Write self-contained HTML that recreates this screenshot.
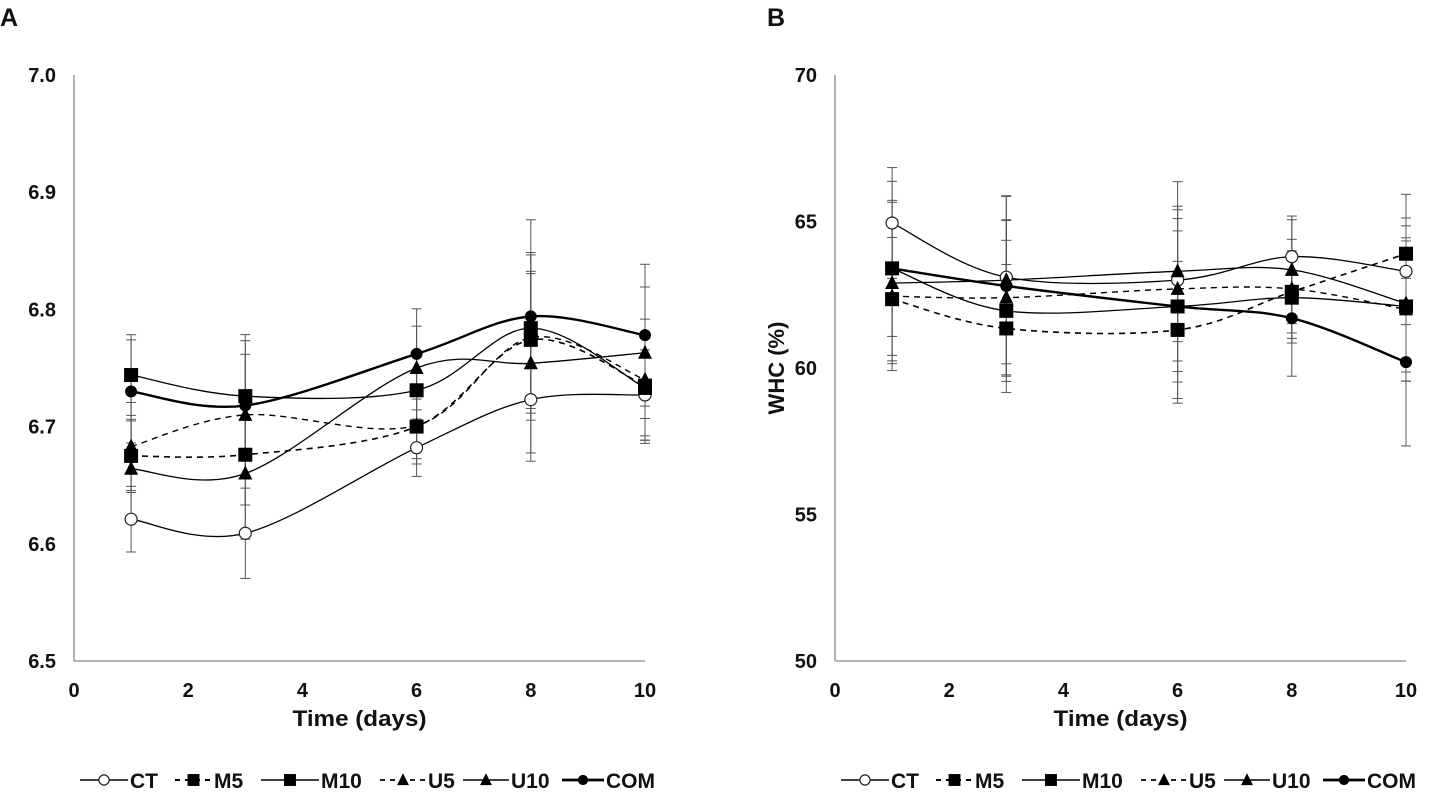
<!DOCTYPE html>
<html><head><meta charset="utf-8">
<style>
html,body{margin:0;padding:0;background:#fff;}
body{width:1440px;height:791px;overflow:hidden;font-family:"Liberation Sans",Arial,sans-serif;}
svg text{font-family:"Liberation Sans",Arial,sans-serif;font-weight:bold;fill:#111;}
</style></head>
<body>
<svg id="chart" width="1440" height="791" xmlns="http://www.w3.org/2000/svg"></svg>
<script>
// ---- data ----
const days = [1, 3, 6, 8, 10];
const seriesNames = ["CT", "M5", "M10", "U5", "U10", "COM"];
// Panel A (pH)
const aCT  = [6.621, 6.609, 6.682, 6.723, 6.727];
const aM5  = [6.675, 6.676, 6.700, 6.774, 6.735];
const aM10 = [6.744, 6.726, 6.731, 6.784, 6.733];
const aU5  = [6.683, 6.710, 6.701, 6.776, 6.740];
const aU10 = [6.664, 6.660, 6.750, 6.754, 6.763];
const aCOM = [6.730, 6.718, 6.762, 6.794, 6.778];
const aErr = [0.040, 0.055, 0.035, 0.075, 0.055];
const aTicks = ["6.5", "6.6", "6.7", "6.8", "6.9", "7.0"];
// Panel B (WHC %)
const bCT  = [64.95, 63.1, 63.0, 63.8, 63.3];
const bM5  = [62.35, 61.35, 61.3, 62.6, 63.9];
const bM10 = [63.4, 61.95, 62.1, 62.4, 62.1];
const bU5  = [62.45, 62.4, 62.7, 62.7, 62.0];
const bU10 = [62.9, 63.0, 63.3, 63.35, 62.2];
const bCOM = [63.4, 62.8, 62.1, 61.7, 60.2];
const bErr = [2.7, 2.8, 3.0, 1.8, 2.6];
const bTicks = ["50", "55", "60", "65", "70"];
const xTicks = ["0", "2", "4", "6", "8", "10"];

const NS = "http://www.w3.org/2000/svg";
const svg = document.getElementById("chart");
function mk(tag, attrs, parent) {
  const e = document.createElementNS(NS, tag);
  for (const k in attrs) e.setAttribute(k, attrs[k]);
  (parent || svg).appendChild(e);
  return e;
}
const styles = {
  CT:  {dash: "", w: 1.3, marker: "circleOpen"},
  M5:  {dash: "6,5", w: 1.6, marker: "square"},
  M10: {dash: "", w: 1.3, marker: "square"},
  U5:  {dash: "6,5", w: 1.4, marker: "triangle"},
  U10: {dash: "", w: 1.3, marker: "triangle"},
  COM: {dash: "", w: 2.4, marker: "circle"}
};
// legend layout (offset from panel axis x)
const legLine = [6, 101, 187, 306, 389, 488];
const legText = [56, 140, 247, 354, 437, 532];

function smoothPath(pts) {
  let d = "M" + pts[0][0] + "," + pts[0][1];
  for (let i = 0; i < pts.length - 1; i++) {
    const p0 = pts[i - 1] || pts[i], p1 = pts[i], p2 = pts[i + 1], p3 = pts[i + 2] || p2;
    const t = 0.5 / 3;
    const c1 = [p1[0] + (p2[0] - p0[0]) * t, p1[1] + (p2[1] - p0[1]) * t];
    const c2 = [p2[0] - (p3[0] - p1[0]) * t, p2[1] - (p3[1] - p1[1]) * t];
    d += " C" + c1[0] + "," + c1[1] + " " + c2[0] + "," + c2[1] + " " + p2[0] + "," + p2[1];
  }
  return d;
}

function drawMarker(g, type, x, y, s) {
  let e;
  if (type === "circleOpen") e = mk("circle", {cx: x, cy: y, r: 6 * s, fill: "#fff", stroke: "#222", "stroke-width": 1.2}, g);
  else if (type === "circle") e = mk("circle", {cx: x, cy: y, r: 6 * s, fill: "#000"}, g);
  else if (type === "square") e = mk("rect", {x: x - 7 * s, y: y - 7 * s, width: 14 * s, height: 14 * s, fill: "#000"}, g);
  else e = mk("polygon", {points: (x) + "," + (y - 8 * s) + " " + (x - 7 * s) + "," + (y + 6 * s) + " " + (x + 7 * s) + "," + (y + 6 * s), fill: "#000"}, g);
  return e;
}

function panel(cfg) {
  const {x0, x1, y0, y1, vmin, vmax, ticks, data, err, label, lx, ylabel} = cfg;
  const g = mk("g", {});
  
  
  const X = d => x0 + (d / 10) * (x1 - x0);
  const Y = v => y1 - (v - vmin) / (vmax - vmin) * (y1 - y0);
  const pl = mk("text", {x: lx, y: 26, "font-size": 25}, g); pl.textContent = label;
  
  
  const ya = mk("line", {x1: x0, y1: y0, x2: x0, y2: y1, stroke: "#888", "stroke-width": 1.3}, g);
  
  
  const xa = mk("line", {x1: x0, y1: y1, x2: x1, y2: y1, stroke: "#888", "stroke-width": 1.3}, g);
  
  
  ticks.forEach(t => {
    const e = mk("text", {x: x0 - 18, y: Y(parseFloat(t)) + 7, "font-size": 20, "text-anchor": "end"}, g);
    e.textContent = t;
    
    
  });
  xTicks.forEach(t => {
    const e = mk("text", {x: X(parseFloat(t)), y: 697, "font-size": 20, "text-anchor": "middle"}, g);
    e.textContent = t;
    
    
  });
  const xt = mk("text", {x: (x0 + x1) / 2, y: 726, "font-size": 22, "text-anchor": "middle", textLength: 134, lengthAdjust: "spacingAndGlyphs"}, g);
  xt.textContent = "Time (days)";
  
  
  if (ylabel) {
    const yt = mk("text", {x: 0, y: 0, "font-size": 22, "text-anchor": "middle", transform: "translate(784,368) rotate(-90)"}, g);
    yt.textContent = ylabel;
    
    
  }
  // error bars
  seriesNames.forEach((n, si) => {
    data[si].forEach((v, i) => {
      const e = err[i] * (0.7 + 0.08 * si);
      const eg = mk("g", {stroke: "#555", "stroke-width": 1}, g);
      
      
      const x = X(days[i]);
      mk("line", {x1: x, y1: Y(v - e), x2: x, y2: Y(v + e)}, eg);
      mk("line", {x1: x - 5, y1: Y(v - e), x2: x + 5, y2: Y(v - e)}, eg);
      mk("line", {x1: x - 5, y1: Y(v + e), x2: x + 5, y2: Y(v + e)}, eg);
    });
  });
  seriesNames.forEach((n, si) => {
    const st = styles[n];
    const pts = data[si].map((v, i) => [X(days[i]), Y(v)]);
    const p = mk("path", {d: smoothPath(pts), fill: "none", stroke: "#000", "stroke-width": st.w, "stroke-dasharray": st.dash}, g);
    
    
  });
  seriesNames.forEach((n, si) => {
    data[si].forEach((v, i) => {
      const m = drawMarker(g, styles[n].marker, X(days[i]), Y(v), 1);
      
      
    });
  });
  // legend
  const lg = mk("g", {}, g);
  
  
  const ly = 780;
  seriesNames.forEach((n, si) => {
    const st = styles[n];
    const eg = mk("g", {}, lg);
    
    
    const ls = x0 + legLine[si], le = x0 + legText[si] - 2;
    mk("line", {x1: ls, y1: ly, x2: le, y2: ly, stroke: "#000", "stroke-width": st.w + 0.3, "stroke-dasharray": st.dash ? "5,5" : ""}, eg);
    drawMarker(eg, st.marker, (ls + le) / 2, ly, 0.85);
    const t = mk("text", {x: x0 + legText[si], y: ly + 8, "font-size": 21}, eg);
    t.textContent = n;
  });
}

panel({name: "panel-a", x0: 74, x1: 645, y0: 75, y1: 661, vmin: 6.5, vmax: 7.0, ticks: aTicks,
  data: [aCT, aM5, aM10, aU5, aU10, aCOM], err: aErr, label: "A", lx: 0, ylabel: null});
panel({name: "panel-b", x0: 835, x1: 1406, y0: 75, y1: 661, vmin: 50, vmax: 70, ticks: bTicks,
  data: [bCT, bM5, bM10, bU5, bU10, bCOM], err: bErr, label: "B", lx: 767, ylabel: "WHC (%)"});
</script>
</body></html>
